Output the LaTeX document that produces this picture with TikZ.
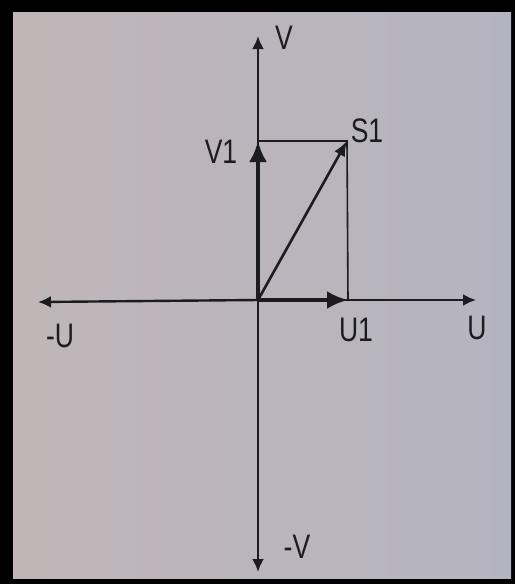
\documentclass[tikz,border=0pt]{standalone}
\usepackage{fontspec}
\setmainfont{Liberation Sans}
\usetikzlibrary{arrows.meta}
\definecolor{paperL}{RGB}{192,182,184}
\definecolor{paperR}{RGB}{180,180,192}
\definecolor{ink}{RGB}{28,28,32}
\tikzset{
  lbl/.style={text=ink, font=\fontsize{34}{34}\selectfont, inner sep=0pt, xscale=0.78},
  axis/.style={draw=ink, line width=2.4pt, -{Latex[length=13pt,width=12pt]}},
  vec/.style={draw=ink, line width=4pt, -{Latex[length=21pt,width=18pt]}},
  res/.style={draw=ink, line width=2.6pt, -{Latex[length=15pt,width=12pt]}},
  guide/.style={draw=ink, line width=1.6pt}
}
\begin{document}
\begin{tikzpicture}[x=1pt,y=-1pt]
\useasboundingbox (0,0) rectangle (515,584);
\fill[black] (0,0) rectangle (515,584);
\shade[left color=paperL, right color=paperR] (13,12) rectangle (511,578);
% coordinates
\coordinate (O) at (258,300);
\coordinate (Vtop) at (258,36);
\coordinate (Vbot) at (258,572);
\coordinate (Uleft) at (38,302);
\coordinate (Uright) at (476,300);
\coordinate (V1) at (258,141);
\coordinate (U1) at (348,300);
\coordinate (S1) at (347,141);
% axes
\draw[axis] (O) -- (Vtop);
\draw[axis] (O) -- (Vbot);
\draw[axis] (O) -- (Uleft);
\draw[axis] (O) -- (Uright);
% guides
\draw[guide] (V1) -- (S1) -- (U1);
% vectors
\draw[vec] (O) -- (V1);
\draw[vec] (O) -- (U1);
\draw[res] (O) -- (S1);
% labels
\node[lbl] (lV) at (284,38) {V};
\node[lbl] (lmV) at (297,547) {-V};
\node[lbl] (lmU) at (60,336) {-U};
\node[lbl] (lU) at (477,328) {U};
\node[lbl] (lU1) at (356,330) {U1};
\node[lbl] (lV1) at (221,152) {V1};
\node[lbl] (lS1) at (367,131) {S1};
\end{tikzpicture}
\end{document}
